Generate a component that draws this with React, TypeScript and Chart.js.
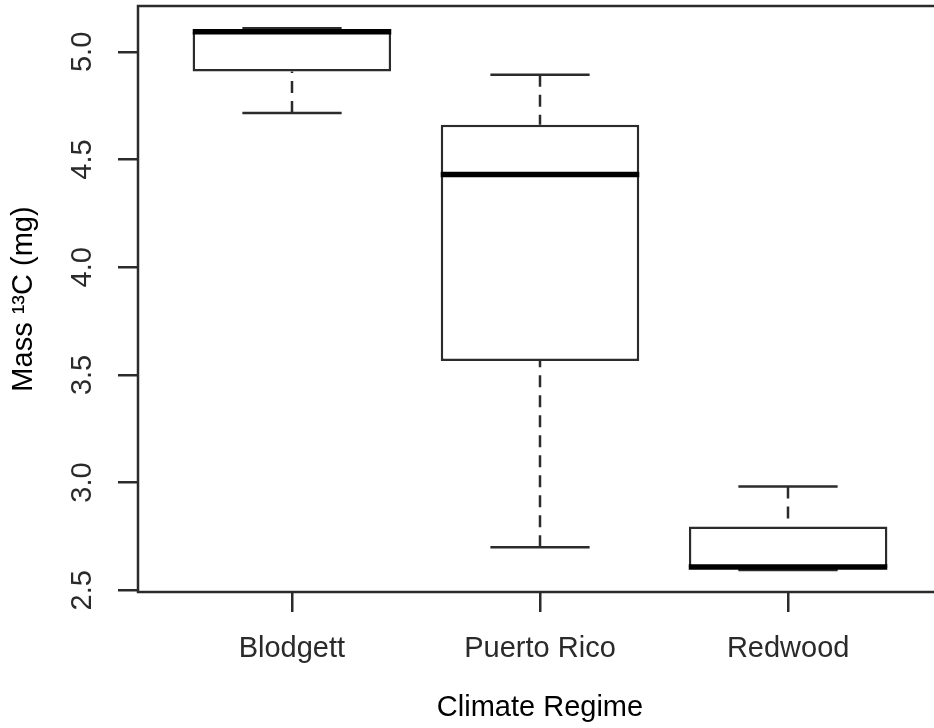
import React, { useEffect, useRef } from 'react';
import { Chart, registerables } from 'chart.js';

Chart.register(...registerables);

// ---- data ----
const categories = ['Blodgett', 'Puerto Rico', 'Redwood'];
const positions = [1, 2, 3];
const whiskerLow = [4.716, 2.7, 2.594];
const lowerQuartile = [4.909, 3.565, 2.602];
const medians = [5.093, 4.431, 2.608];
const upperQuartile = [5.095, 4.662, 2.796];
const whiskerHigh = [5.11, 4.894, 2.982];
const yTicks = [2.5, 3.0, 3.5, 4.0, 4.5, 5.0];

const FONT = "'Liberation Sans', Arial, Helvetica, sans-serif";
const LINE = '#2b2b2b';

const boxPlugin = {
  id: 'boxExtras',
  afterDatasetsDraw(chart: any) {
    const { ctx, chartArea, scales } = chart;
    const x = scales.x;
    const y = scales.y;
    const meta = chart.getDatasetMeta(0);
    ctx.save();
    positions.forEach((p, i) => {
      const bar = meta.data[i] as any;
      const cx = Math.round(x.getPixelForValue(p));
      const half = bar.width / 2;
      const capHalf = half / 2;
      // dashed whiskers, drawn from the whisker end toward the hinge
      ctx.strokeStyle = LINE;
      ctx.lineWidth = 2.5;
      ctx.setLineDash([12, 8]);
      ctx.beginPath();
      ctx.moveTo(cx, y.getPixelForValue(whiskerLow[i]));
      ctx.lineTo(cx, y.getPixelForValue(lowerQuartile[i]));
      ctx.moveTo(cx, y.getPixelForValue(whiskerHigh[i]));
      ctx.lineTo(cx, y.getPixelForValue(upperQuartile[i]));
      ctx.stroke();
      ctx.setLineDash([]);
      // caps
      ctx.beginPath();
      const yl = y.getPixelForValue(whiskerLow[i]);
      const yh = y.getPixelForValue(whiskerHigh[i]);
      ctx.moveTo(cx - capHalf, yl);
      ctx.lineTo(cx + capHalf, yl);
      ctx.moveTo(cx - capHalf, yh);
      ctx.lineTo(cx + capHalf, yh);
      ctx.stroke();
      // median
      ctx.strokeStyle = '#000000';
      ctx.lineWidth = 5.5;
      ctx.beginPath();
      const ym = y.getPixelForValue(medians[i]);
      ctx.moveTo(cx - half, ym);
      ctx.lineTo(cx + half, ym);
      ctx.stroke();
    });
    // plot frame
    ctx.strokeStyle = LINE;
    ctx.lineWidth = 2.5;
    ctx.strokeRect(chartArea.left, chartArea.top, chartArea.right - chartArea.left, chartArea.bottom - chartArea.top);
    ctx.restore();
  },
};

export default function App() {
  const ref = useRef<HTMLCanvasElement | null>(null);

  useEffect(() => {
    if (!ref.current) return;
    const chart = new Chart(ref.current, {
      type: 'bar',
      data: {
        datasets: [
          {
            data: positions.map((p, i) => ({ x: p, y: [lowerQuartile[i], upperQuartile[i]] })) as any,
            backgroundColor: '#ffffff',
            borderColor: LINE,
            borderWidth: 2.5,
            borderSkipped: false,
            categoryPercentage: 1,
            barPercentage: 0.8,
          },
        ],
      },
      options: {
        responsive: false,
        animation: false,
        events: [],
        layout: { padding: { top: 6, right: 8, left: 0, bottom: 0 } },
        plugins: {
          legend: { display: false },
          tooltip: { enabled: false },
        },
        scales: {
          x: {
            type: 'linear',
            offset: false,
            min: 0.38,
            max: 3.62,
            afterBuildTicks: (scale: any) => {
              scale.ticks = positions.map((v) => ({ value: v }));
            },
            afterFit: (scale: any) => {
              scale.height = 136;
              scale.paddingLeft = 0;
              scale.paddingRight = 0;
            },
            ticks: {
              callback: (v: any) => categories[Number(v) - 1] ?? '',
              font: { family: FONT, size: 29 },
              color: '#2a2a2a',
              padding: 20,
              maxRotation: 0,
              minRotation: 0,
              autoSkip: false,
            },
            grid: {
              offset: false,
              drawOnChartArea: false,
              drawTicks: true,
              tickLength: 20,
              color: LINE,
              lineWidth: 2.5,
            },
            border: { display: false },
            title: {
              display: true,
              text: 'Climate Regime',
              font: { family: FONT, size: 29 },
              color: '#000000',
              padding: { top: 0, bottom: 3 },
            },
          },
          y: {
            type: 'linear',
            min: 2.492,
            max: 5.213,
            afterBuildTicks: (scale: any) => {
              scale.ticks = yTicks.map((v) => ({ value: v }));
            },
            afterFit: (scale: any) => {
              scale.width = 138;
              scale.paddingTop = 0;
              scale.paddingBottom = 0;
            },
            ticks: {
              callback: (v: any) => Number(v).toFixed(1),
              font: { family: FONT, size: 29 },
              color: '#2a2a2a',
              padding: 15,
              minRotation: 90,
              maxRotation: 90,
              crossAlign: 'center',
            },
            grid: {
              drawOnChartArea: false,
              drawTicks: true,
              tickLength: 20,
              color: LINE,
              lineWidth: 2.5,
            },
            border: { display: false },
            title: {
              display: true,
              text: 'Mass ¹³C (mg)',
              font: { family: FONT, size: 29 },
              color: '#000000',
              padding: { top: 7, bottom: 0 },
            },
          },
        },
      },
      plugins: [boxPlugin],
    });
    return () => chart.destroy();
  }, []);

  return (
    <div
      style={{
        position: 'fixed',
        left: 0,
        top: 0,
        width: 934,
        height: 728,
        overflow: 'hidden',
        background: '#ffffff',
      }}
    >
      <canvas ref={ref} width={950} height={728} style={{ display: 'block' }} />
    </div>
  );
}
